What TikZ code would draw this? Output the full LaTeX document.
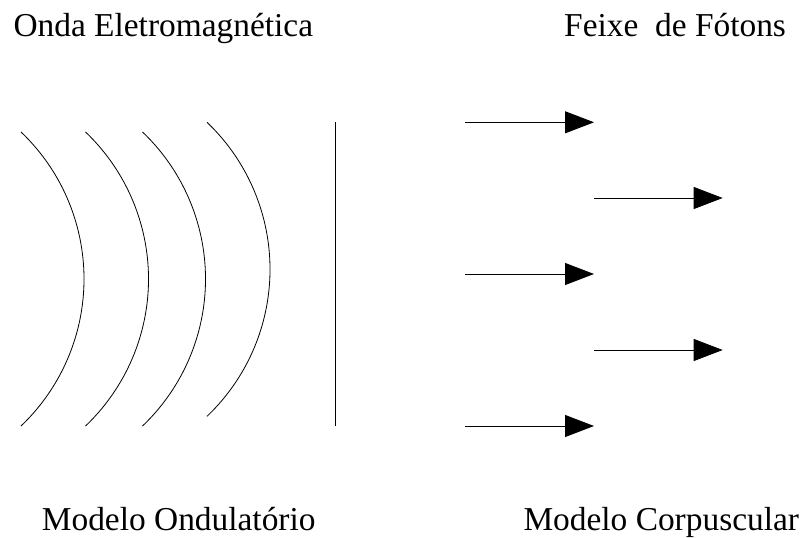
\documentclass[tikz,border=0pt]{standalone}
\usepackage{fontspec}
\setmainfont{Liberation Serif}
\usetikzlibrary{arrows.meta}
\tikzset{
  lbl/.style={inner sep=0pt, anchor=base west, font=\fontsize{33.4}{40}\selectfont},
  wave/.style={line width=0.8pt, black},
  ray/.style={line width=0.9pt, black, -{Triangle[length=29pt,width=22pt]}}
}
\begin{document}
\begin{tikzpicture}[x=1pt,y=1pt]
\useasboundingbox (0,0) rectangle (806,-538);
% titles
\node[lbl] (t1) at (13.3,-36.8) {Onda Eletromagnética};
\node[lbl] (t2) at (564,-36.8) {Feixe\ \ de Fótons};
\node[lbl] (b1) at (41.7,-530) {Modelo Ondulatório};
\node[lbl] (b2) at (523.3,-530) {Modelo Corpuscular};
% wave fronts
\draw[wave] (21,-132) arc[start angle=46.4, end angle=-46.4, radius=203pt];
\draw[wave] (85.5,-132) arc[start angle=46.4, end angle=-46.4, radius=203pt];
\draw[wave] (142.5,-132) arc[start angle=46.4, end angle=-46.4, radius=203pt];
\draw[wave] (207,-122.3) arc[start angle=46.4, end angle=-46.4, radius=203pt];
% plane front
\coordinate (v1) at (335.7,-122.3);
\coordinate (v2) at (335.7,-425.7);
\draw[wave] (v1) -- (v2);
% photon arrows
\coordinate (a1s) at (465,-122.3); \coordinate (a1e) at (594,-122.3);
\coordinate (a2s) at (594,-198);   \coordinate (a2e) at (722.7,-198);
\coordinate (a3s) at (465,-274);   \coordinate (a3e) at (594,-274);
\coordinate (a4s) at (594,-350);   \coordinate (a4e) at (722.7,-350);
\coordinate (a5s) at (465,-426);   \coordinate (a5e) at (594,-426);
\draw[ray] (a1s) -- (a1e);
\draw[ray] (a2s) -- (a2e);
\draw[ray] (a3s) -- (a3e);
\draw[ray] (a4s) -- (a4e);
\draw[ray] (a5s) -- (a5e);
\end{tikzpicture}
\end{document}
